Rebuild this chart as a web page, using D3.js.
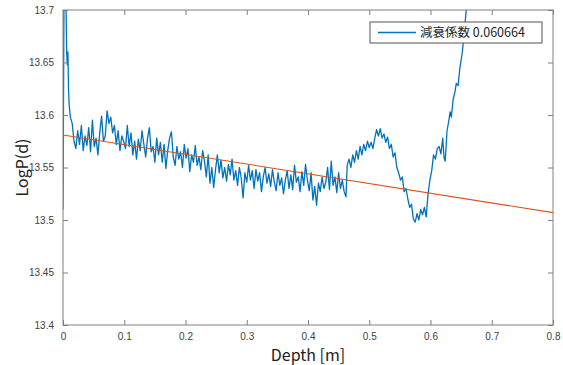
<!DOCTYPE html>
<html>
<head>
<meta charset="utf-8">
<script src="https://cdn.jsdelivr.net/npm/d3@7"></script>
<style>
  body { margin: 0; background: #fff; }
  svg { display: block; }
</style>
</head>
<body>
<div id="chart"></div>
<script>
const depth = [
  0, 0.002, 0.004, 0.006, 0.007, 0.008, 0.009, 0.010,
  0.012, 0.015, 0.018, 0.021, 0.024, 0.027, 0.030, 0.033, 0.036, 0.039,
  0.042, 0.045, 0.048, 0.051, 0.054, 0.057, 0.060, 0.063, 0.066, 0.069,
  0.072, 0.075, 0.078, 0.081, 0.084, 0.087, 0.090, 0.093, 0.096, 0.099,
  0.102, 0.105, 0.108, 0.111, 0.114, 0.117, 0.120, 0.123, 0.126, 0.129,
  0.132, 0.135, 0.138, 0.141, 0.144, 0.147, 0.150, 0.153, 0.156, 0.159,
  0.162, 0.165, 0.168, 0.171, 0.174, 0.177, 0.180, 0.183, 0.186, 0.189,
  0.192, 0.195, 0.198, 0.201, 0.204, 0.207, 0.210, 0.213, 0.216, 0.219,
  0.222, 0.225, 0.228, 0.231, 0.234, 0.237, 0.240, 0.243, 0.246, 0.249,
  0.252, 0.255, 0.258, 0.261, 0.264, 0.267, 0.270, 0.273, 0.276, 0.279,
  0.282, 0.285, 0.288, 0.291, 0.294, 0.297, 0.300, 0.303, 0.306, 0.309,
  0.312, 0.315, 0.318, 0.321, 0.324, 0.327, 0.330, 0.333, 0.336, 0.339,
  0.342, 0.345, 0.348, 0.351, 0.354, 0.357, 0.360, 0.363, 0.366, 0.369,
  0.372, 0.375, 0.378, 0.381, 0.384, 0.387, 0.390, 0.393, 0.396, 0.399,
  0.402, 0.405, 0.408, 0.411, 0.414, 0.417, 0.420, 0.423, 0.426, 0.429,
  0.432, 0.435, 0.438, 0.441, 0.444, 0.447, 0.450, 0.453, 0.456, 0.459,
  0.462, 0.464, 0.467, 0.470, 0.473, 0.476, 0.479, 0.482, 0.485, 0.488,
  0.491, 0.494, 0.497, 0.500, 0.503, 0.506, 0.509, 0.512, 0.515, 0.518,
  0.521, 0.524, 0.527, 0.530, 0.533, 0.536, 0.539, 0.542, 0.545, 0.548,
  0.551, 0.554, 0.557, 0.560, 0.563, 0.566, 0.569, 0.572, 0.575, 0.578,
  0.581, 0.584, 0.587, 0.590, 0.593, 0.596, 0.599, 0.602, 0.605, 0.608,
  0.611, 0.614, 0.617, 0.620, 0.622, 0.624, 0.627, 0.630, 0.632, 0.634,
  0.637, 0.640, 0.642, 0.645, 0.648, 0.652, 0.656, 0.660, 0.664
];
const logP = [
  13.51, 13.76, 13.74, 13.66, 13.648, 13.66, 13.625, 13.61,
  13.598, 13.592, 13.575, 13.568, 13.585, 13.572, 13.59, 13.566, 13.58, 13.571,
  13.588, 13.565, 13.595, 13.57, 13.578, 13.562, 13.583, 13.599, 13.575, 13.58,
  13.604, 13.592, 13.598, 13.583, 13.59, 13.572, 13.585, 13.566, 13.58, 13.575,
  13.568, 13.59, 13.57, 13.583, 13.562, 13.575, 13.558, 13.577, 13.566, 13.585,
  13.572, 13.56, 13.578, 13.588, 13.565, 13.57, 13.555, 13.578, 13.562, 13.574,
  13.555, 13.572, 13.549, 13.566, 13.578, 13.584, 13.56, 13.552, 13.57, 13.558,
  13.565, 13.55, 13.572, 13.559, 13.568, 13.546, 13.562, 13.555, 13.571, 13.552,
  13.56, 13.548, 13.566, 13.556, 13.541, 13.562, 13.535, 13.55, 13.531, 13.548,
  13.562, 13.545, 13.557, 13.54, 13.55, 13.537, 13.553, 13.543, 13.558, 13.538,
  13.547, 13.533, 13.55, 13.54, 13.521, 13.545, 13.536, 13.552, 13.538, 13.547,
  13.53, 13.548, 13.537, 13.545, 13.527, 13.541, 13.55, 13.535, 13.544, 13.532,
  13.548, 13.536, 13.528, 13.545, 13.533, 13.54, 13.525, 13.538, 13.547, 13.53,
  13.543, 13.529, 13.552, 13.536, 13.541, 13.527, 13.546, 13.533, 13.553, 13.538,
  13.528, 13.545, 13.519, 13.532, 13.514, 13.535, 13.527, 13.541, 13.53, 13.536,
  13.55, 13.529, 13.556, 13.533, 13.541, 13.526, 13.545, 13.53, 13.538, 13.527,
  13.522, 13.552, 13.558, 13.55, 13.562, 13.555, 13.566, 13.558, 13.57, 13.562,
  13.572, 13.566, 13.575, 13.569, 13.574, 13.568, 13.578, 13.586, 13.58, 13.587,
  13.578, 13.582, 13.574, 13.579, 13.568, 13.572, 13.56, 13.564, 13.55, 13.545,
  13.538, 13.541, 13.527, 13.53, 13.52, 13.512, 13.515, 13.501, 13.498, 13.506,
  13.5, 13.51, 13.505, 13.512, 13.503, 13.525, 13.538, 13.547, 13.562, 13.558,
  13.568, 13.57, 13.563, 13.578, 13.56, 13.556, 13.585, 13.595, 13.603, 13.598,
  13.615, 13.622, 13.63, 13.628, 13.645, 13.66, 13.685, 13.71, 13.74
];
// fitted line end points
const fitDepth = [0, 0.8];
const fitLogP = [13.581, 13.507];

const xTicks = [0, 0.1, 0.2, 0.3, 0.4, 0.5, 0.6, 0.7, 0.8];
const yTicks = [13.4, 13.45, 13.5, 13.55, 13.6, 13.65, 13.7];
const legendLabel = '減衰係数 0.060664';

const W = 563, H = 365;
const margin = { top: 10, right: 10, bottom: 40, left: 63 };
const width = W - margin.left - margin.right;   // 490
const height = H - margin.top - margin.bottom;  // 315

const svg = d3.select('#chart')
  .append('svg')
  .attr('width', W)
  .attr('height', H);

const g = svg.append('g')
  .attr('transform', `translate(${margin.left},${margin.top})`);

const x = d3.scaleLinear().domain([0, 0.8]).range([0, width]);
const y = d3.scaleLinear().domain([13.4, 13.7]).range([height, 0]);

const axisColor = '#808080';
const textColor = '#404040';
const tickFont = '"Liberation Sans", Arial, sans-serif';
const labelFont = '"Noto Sans CJK JP", "Noto Sans", sans-serif';

g.append('clipPath').attr('id', 'plot-clip')
  .append('rect').attr('width', width).attr('height', height);

// data line
const line = d3.line().x((d) => x(d[0])).y((d) => y(d[1]));
g.append('path')
  .datum(depth.map((d, i) => [d, logP[i]]))
  .attr('clip-path', 'url(#plot-clip)')
  .attr('fill', 'none')
  .attr('stroke', '#0072BD')
  .attr('stroke-width', 1.3)
  .attr('stroke-linejoin', 'round')
  .attr('d', line);

// fit line
g.append('path')
  .datum(fitDepth.map((d, i) => [d, fitLogP[i]]))
  .attr('fill', 'none')
  .attr('stroke', '#D95319')
  .attr('stroke-width', 1.1)
  .attr('d', line);

// axes (ticks inside)
const styleAxis = (sel) => {
  sel.select('.domain').remove();
  sel.selectAll('.tick line').attr('stroke', axisColor);
  sel.selectAll('.tick text')
    .attr('fill', textColor)
    .style('font-family', tickFont)
    .style('font-size', '10px');
};

g.append('g')
  .attr('transform', `translate(0,${height})`)
  .call(d3.axisBottom(x).tickValues(xTicks).tickFormat(d3.format('')).tickSizeInner(-5).tickPadding(8))
  .call(styleAxis);

g.append('g')
  .call(d3.axisTop(x).tickValues(xTicks).tickFormat('').tickSizeInner(-5))
  .call(styleAxis);

g.append('g')
  .call(d3.axisLeft(y).tickValues(yTicks).tickFormat(d3.format('')).tickSizeInner(-5).tickPadding(9))
  .call(styleAxis);

g.append('g')
  .attr('transform', `translate(${width},0)`)
  .call(d3.axisRight(y).tickValues(yTicks).tickFormat('').tickSizeInner(-5))
  .call(styleAxis);

// box
g.append('rect')
  .attr('width', width)
  .attr('height', height)
  .attr('fill', 'none')
  .attr('stroke', axisColor)
  .attr('stroke-width', 1);

// axis labels
svg.append('text')
  .attr('x', margin.left + width / 2)
  .attr('y', 361)
  .attr('text-anchor', 'middle')
  .attr('fill', '#222')
  .style('font-family', labelFont)
  .style('font-size', '16px')
  .text('Depth [m]');

svg.append('text')
  .attr('transform', `translate(28,${margin.top + height / 2}) rotate(-90)`)
  .attr('text-anchor', 'middle')
  .attr('fill', '#222')
  .style('font-family', labelFont)
  .style('font-size', '16px')
  .text('LogP(d)');

// legend
const legend = svg.append('g').attr('transform', 'translate(370,22)');
legend.append('rect')
  .attr('width', 172)
  .attr('height', 21)
  .attr('fill', '#fff')
  .attr('stroke', '#555')
  .attr('stroke-width', 1);
legend.append('line')
  .attr('x1', 8).attr('x2', 46)
  .attr('y1', 10.5).attr('y2', 10.5)
  .attr('stroke', '#0072BD')
  .attr('stroke-width', 1.3);
legend.append('text')
  .attr('x', 50)
  .attr('y', 15)
  .attr('fill', '#222')
  .style('font-family', '"Noto Sans CJK JP", sans-serif')
  .style('font-size', '12.5px')
  .text(legendLabel);
</script>
</body>
</html>
